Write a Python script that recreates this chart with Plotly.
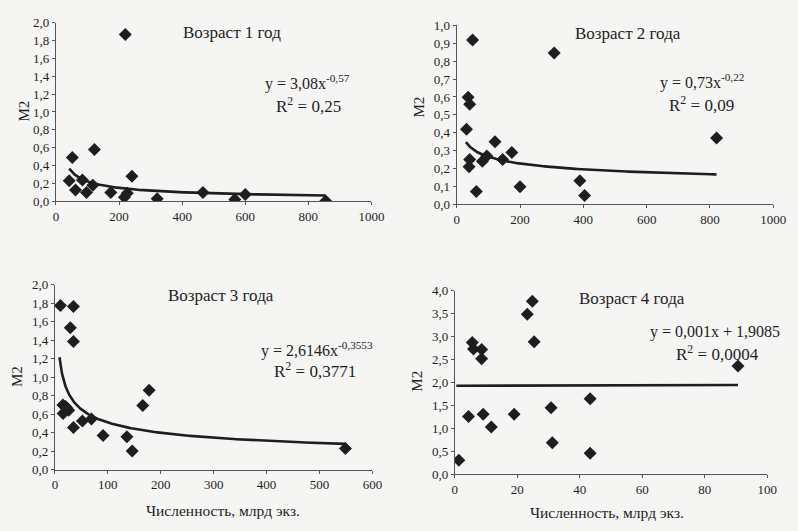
import numpy as np
import plotly.graph_objects as go

# ---- Data ----
x1 = [220, 52, 42, 62, 84, 97, 122, 117, 174, 217, 226, 241, 321, 466, 567, 600, 855]
y1 = [1.865, 0.49, 0.23, 0.127, 0.24, 0.10, 0.58, 0.18, 0.10, 0.047, 0.09, 0.28, 0.03, 0.10, 0.02, 0.076, 0.005]
trend1 = (3.08, -0.57)

x2 = [50, 308, 36, 41, 31, 41, 39, 62, 81, 95, 121, 145, 174, 200, 389, 404, 821]
y2 = [0.918, 0.846, 0.598, 0.56, 0.42, 0.25, 0.21, 0.072, 0.24, 0.27, 0.35, 0.25, 0.29, 0.098, 0.132, 0.049, 0.371]
trend2 = (0.73, -0.22)

x3 = [10.4, 35, 29, 35, 15, 20, 15.4, 26, 22, 35, 52, 69, 91, 136, 146, 166, 178, 549]
y3 = [1.776, 1.765, 1.537, 1.386, 0.70, 0.684, 0.607, 0.642, 0.67, 0.456, 0.526, 0.547, 0.37, 0.354, 0.20, 0.695, 0.86, 0.228]
trend3 = (2.6146, -0.3553)

x4 = [1.3, 4.4, 5.6, 6.0, 8.6, 8.6, 9.1, 11.7, 19, 23.2, 24.8, 25.4, 30.8, 31.2, 43.3, 43.3, 90.6]
y4 = [0.31, 1.26, 2.875, 2.73, 2.72, 2.52, 1.31, 1.03, 1.31, 3.49, 3.77, 2.89, 1.45, 0.69, 1.65, 0.46, 2.36]
# linear trend as drawn (visually flat at about 1.93)
trend4 = (0.0002, 1.93)

titles = ["Возраст 1 год", "Возраст 2 года", "Возраст 3 года", "Возраст 4 года"]
eqs = ["y = 3,08x<sup>-0,57</sup>", "y = 0,73x<sup>-0,22</sup>",
       "y = 2,6146x<sup>-0,3553</sup>", "y = 0,001x + 1,9085"]
r2s = ["R<sup>2</sup> = 0,25", "R<sup>2</sup> = 0,09", "R<sup>2</sup> = 0,3771", "R<sup>2</sup> = 0,0004"]
xlabel = "Численность, млрд экз."
ylabel = "M2"

W, H = 798, 531
INK = "#1e1e1e"
FONT = "Liberation Serif"

# plot areas in pixels: (left, right, top, bottom)
boxes = [(54, 376, 16, 200), (463, 786, 19, 203), (53, 377, 286, 476), (461, 780, 292, 481)]
xranges = [[0, 1000], [0, 1000], [0, 600], [0, 100]]
yranges = [[0, 2.0], [0, 1.0], [0, 2.0], [0, 4.0]]
xdticks = [200, 200, 100, 20]
ydticks = [0.2, 0.1, 0.2, 0.5]

fig = go.Figure()
datasets = [(x1, y1), (x2, y2), (x3, y3), (x4, y4)]
trends = [trend1, trend2, trend3, trend4]
trend_span = [(42, 855), (29, 821), (8.6, 549), (0.5, 90.6)]

for i in range(4):
    ax = "" if i == 0 else str(i + 1)
    xs, ys = datasets[i]
    a, b = trends[i]
    lo, hi = trend_span[i]
    if i < 3:
        tx = np.geomspace(lo, hi, 300)
        ty = a * tx ** b
    else:
        tx = np.array([lo, hi])
        ty = a * tx + b
    fig.add_trace(go.Scatter(x=tx, y=ty, mode="lines", line=dict(color=INK, width=2.6),
                             xaxis="x" + ax, yaxis="y" + ax, showlegend=False, hoverinfo="skip"))
    fig.add_trace(go.Scatter(x=xs, y=ys, mode="markers",
                             marker=dict(symbol="diamond", size=10, color=INK),
                             xaxis="x" + ax, yaxis="y" + ax, showlegend=False))
    l, r, t, bt = boxes[i]
    common = dict(showgrid=False, zeroline=False, showline=True, linecolor="#555", linewidth=1,
                  ticks="outside", ticklen=3, tickcolor="#555",
                  tickfont=dict(family=FONT, size=13, color=INK))
    fig.layout["xaxis" + ax] = dict(domain=[l / W, r / W], range=xranges[i], dtick=xdticks[i],
                                    tick0=0, anchor="y" + ax, **common)
    fig.layout["yaxis" + ax] = dict(domain=[1 - bt / H, 1 - t / H], range=yranges[i], dtick=ydticks[i],
                                    tick0=0, tickformat=".1f", anchor="x" + ax, **common)

ann = []
def A(text, x, y, size, angle=0):
    ann.append(dict(text=text, x=x / W, y=1 - y / H, xref="paper", yref="paper",
                    showarrow=False, xanchor="center", yanchor="middle", textangle=angle,
                    font=dict(family=FONT, size=size, color=INK)))

title_pos = [(234, 26), (638, 27), (222, 297), (642, 300)]
eq_pos = [(311, 78), (713, 77), (320, 352), (727, 334)]
r2_pos = [(312, 101), (713, 100), (318, 374), (729, 356)]
ylab_pos = [(21, 107), (425, 103), (15, 380), (423, 385)]
for i in range(4):
    A(titles[i], *title_pos[i], 17)
    A(eqs[i], *eq_pos[i], 16)
    A(r2s[i], *r2_pos[i], 17)
    A(ylabel, *ylab_pos[i], 15, angle=-90)
A(xlabel, 225, 518, 15.5)
A(xlabel, 616, 520, 15.5)

fig.update_layout(width=W, height=H, margin=dict(l=0, r=0, t=0, b=0),
                  paper_bgcolor="#f5f5f3", plot_bgcolor="rgba(0,0,0,0)",
                  separators=", ", annotations=ann)
fig.write_html("out.html")
